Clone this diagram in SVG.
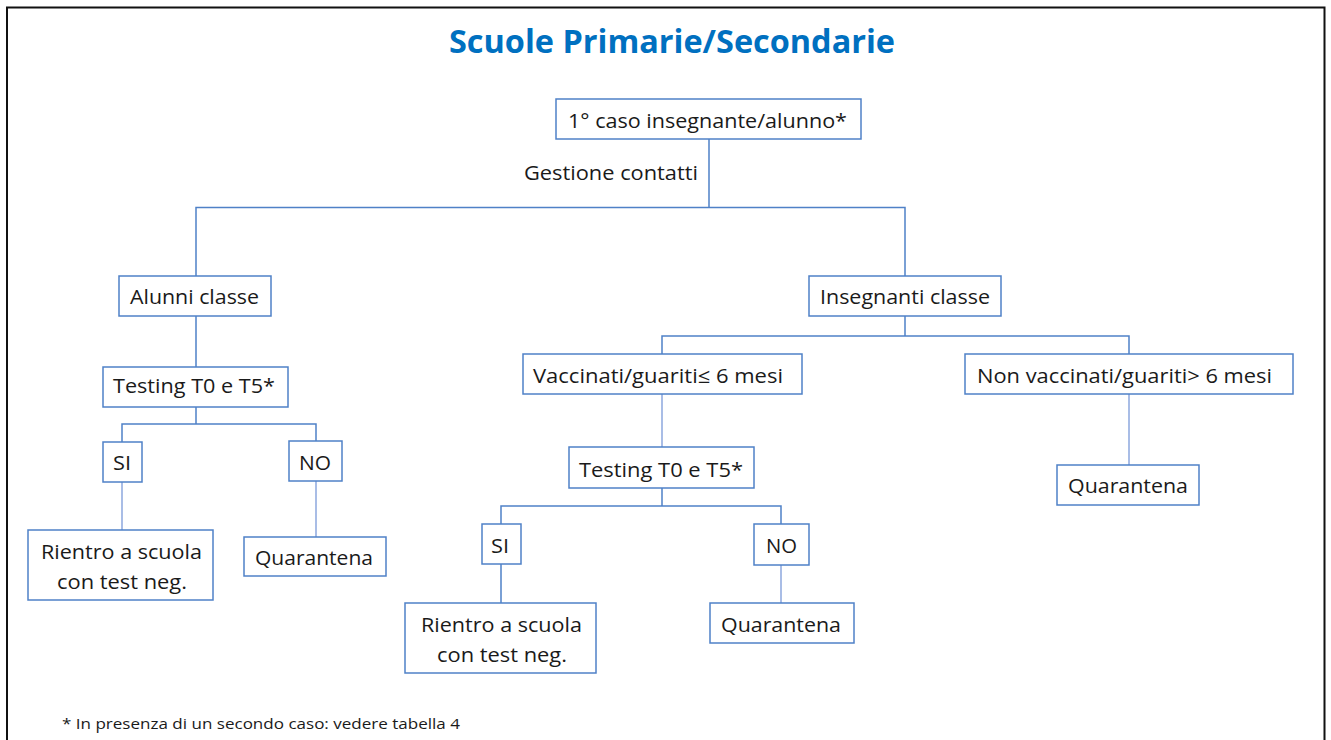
<svg xmlns="http://www.w3.org/2000/svg" width="1331" height="740" viewBox="0 0 1331 740">
<style>
.bx{fill:#fff;stroke:#4F81C7;stroke-width:1.5}
.t{font-family:"Open Sans","Liberation Sans",sans-serif;font-size:20px;fill:#1a1a1a}
.c{fill:none;stroke:#4F81C7;stroke-width:1.5}
.cl{fill:none;stroke:#A9BDE6;stroke-width:2}
</style>
<rect width="1331" height="740" fill="#fff"/>
<path d="M7 741 V7.5 H1324.5 V741" fill="none" stroke="#111" stroke-width="2"/>
<text x="449" y="53" font-family="'Open Sans','Liberation Sans',sans-serif" font-weight="bold" font-size="32" fill="#0070C0" textLength="446" lengthAdjust="spacingAndGlyphs">Scuole Primarie/Secondarie</text>
<g id="connectors">
<path class="c" d="M709 139 V207.5 M196 276 V207.5 H905 V276"/>
<text class="t" x="524" y="180" textLength="174" lengthAdjust="spacingAndGlyphs">Gestione contatti</text>
<path class="c" d="M196 316 V367 M196 407 V424 M122 442 V424 H316 V441"/>
<path class="cl" d="M122 482 V530 M316 481 V537"/>
<path class="c" d="M905 316 V336 M662 354 V336 H1129 V354"/>
<path class="cl" d="M662 394 V447 M1129 394 V465"/>
<path class="c" d="M662 488 V506 M501 524 V506 H781 V524 M501 564 V603"/>
<path class="cl" d="M781 565 V603"/>
</g>
<g id="n-primo"><rect class="bx" x="556" y="99" width="305" height="40"/><text class="t" x="568" y="128" textLength="279" lengthAdjust="spacingAndGlyphs">1° caso insegnante/alunno*</text></g>
<g id="n-alunni"><rect class="bx" x="119" y="276" width="152" height="40"/><text class="t" x="130" y="304" textLength="129" lengthAdjust="spacingAndGlyphs">Alunni classe</text></g>
<g id="n-testing1"><rect class="bx" x="103" y="367" width="185" height="40"/><text class="t" x="113" y="393" textLength="162" lengthAdjust="spacingAndGlyphs">Testing T0 e T5*</text></g>
<g id="n-si1"><rect class="bx" x="103" y="442" width="39" height="40"/><text class="t" x="113" y="470" textLength="18" lengthAdjust="spacingAndGlyphs">SI</text></g>
<g id="n-no1"><rect class="bx" x="289" y="441" width="53" height="40"/><text class="t" x="299" y="470" textLength="32" lengthAdjust="spacingAndGlyphs">NO</text></g>
<g id="n-rientro1"><rect class="bx" x="28" y="530" width="185" height="70"/><text class="t" x="41" y="559" textLength="161" lengthAdjust="spacingAndGlyphs">Rientro a scuola</text><text class="t" x="57" y="589" textLength="130" lengthAdjust="spacingAndGlyphs">con test neg.</text></g>
<g id="n-quar1"><rect class="bx" x="244" y="537" width="142" height="39"/><text class="t" x="255" y="565" textLength="118" lengthAdjust="spacingAndGlyphs">Quarantena</text></g>
<g id="n-insegnanti"><rect class="bx" x="809" y="276" width="192" height="40"/><text class="t" x="820" y="304" textLength="170" lengthAdjust="spacingAndGlyphs">Insegnanti classe</text></g>
<g id="n-vacc"><rect class="bx" x="523" y="354" width="279" height="40"/><text class="t" x="533" y="383" textLength="250" lengthAdjust="spacingAndGlyphs">Vaccinati/guariti≤ 6 mesi</text></g>
<g id="n-nonvacc"><rect class="bx" x="965" y="354" width="328" height="40"/><text class="t" x="977" y="383" textLength="295" lengthAdjust="spacingAndGlyphs">Non vaccinati/guariti&gt; 6 mesi</text></g>
<g id="n-testing2"><rect class="bx" x="569" y="447" width="185" height="41"/><text class="t" x="579" y="477" textLength="164" lengthAdjust="spacingAndGlyphs">Testing T0 e T5*</text></g>
<g id="n-si2"><rect class="bx" x="482" y="524" width="39" height="40"/><text class="t" x="491" y="553" textLength="18" lengthAdjust="spacingAndGlyphs">SI</text></g>
<g id="n-no2"><rect class="bx" x="754" y="524" width="55" height="41"/><text class="t" x="766" y="553" textLength="31" lengthAdjust="spacingAndGlyphs">NO</text></g>
<g id="n-rientro2"><rect class="bx" x="405" y="603" width="191" height="70"/><text class="t" x="421" y="632" textLength="161" lengthAdjust="spacingAndGlyphs">Rientro a scuola</text><text class="t" x="437" y="662" textLength="130" lengthAdjust="spacingAndGlyphs">con test neg.</text></g>
<g id="n-quar2"><rect class="bx" x="710" y="603" width="144" height="40"/><text class="t" x="721" y="632" textLength="120" lengthAdjust="spacingAndGlyphs">Quarantena</text></g>
<g id="n-quar3"><rect class="bx" x="1057" y="465" width="142" height="40"/><text class="t" x="1068" y="493" textLength="120" lengthAdjust="spacingAndGlyphs">Quarantena</text></g>
<text x="62" y="729" font-family="'Open Sans','Liberation Sans',sans-serif" font-size="14.5" fill="#1a1a1a" textLength="398" lengthAdjust="spacingAndGlyphs">* In presenza di un secondo caso: vedere tabella 4</text>
</svg>
